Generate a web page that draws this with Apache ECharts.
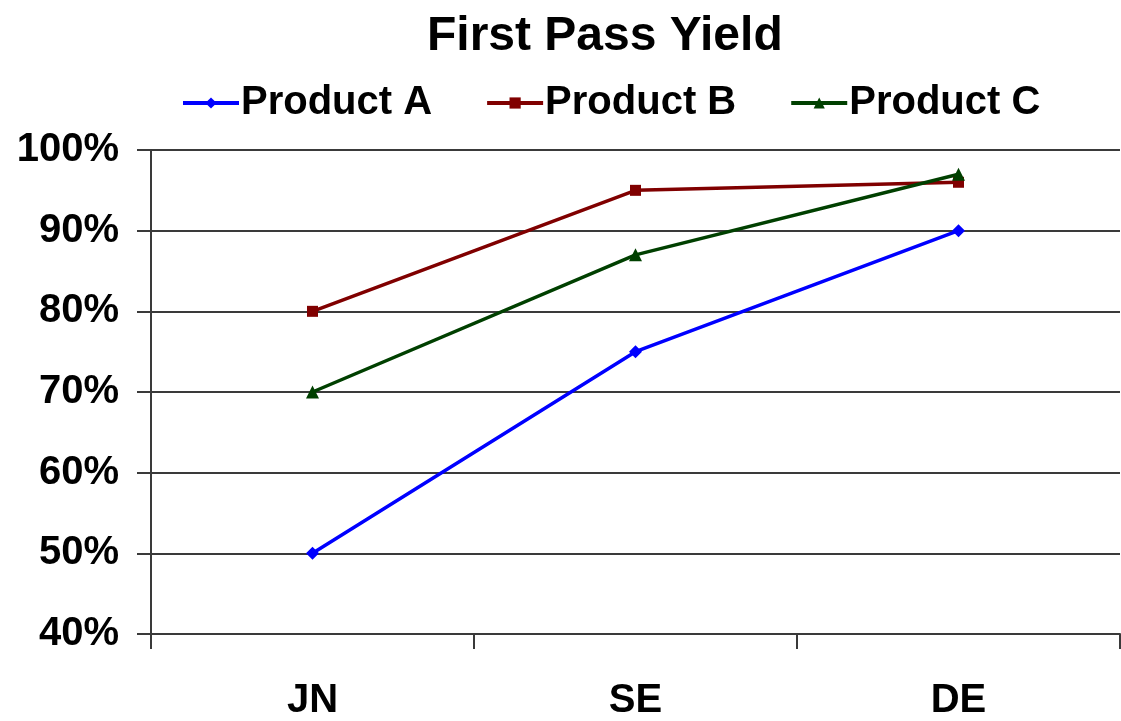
<!DOCTYPE html>
<html>
<head>
<meta charset="utf-8">
<script src="https://cdn.jsdelivr.net/npm/echarts@6/dist/echarts.min.js"></script>
<style>
  html, body { margin: 0; padding: 0; background: #fff; }
  #chart { width: 1121px; height: 721px; }
</style>
</head>
<body>
<div id="chart"></div>
<script>
// First pass yield per period, in percent
const periods = ['JN', 'SE', 'DE'];
const productA = [50, 75, 90];
const productB = [80, 95, 96];
const productC = [70, 87, 97];
const yTicks = { min: 40, max: 100, step: 10 };

const FONT = '"Liberation Sans", Arial, sans-serif';
const axisColor = '#3a3a3a';

const chart = echarts.init(document.getElementById('chart'), null, { renderer: 'canvas' });

function lineSeries(name, data, color, symbol, size) {
  return {
    name: name,
    type: 'line',
    data: data,
    symbol: symbol,
    symbolSize: size,
    showSymbol: true,
    lineStyle: { color: color, width: 3.5 },
    itemStyle: { color: color },
    emphasis: { disabled: true },
    animation: false
  };
}

chart.setOption({
  backgroundColor: '#ffffff',
  animation: false,
  title: {
    text: 'First Pass Yield',
    left: 422,
    top: 8,
    textStyle: { fontFamily: FONT, fontWeight: 'bold', fontSize: 48, color: '#000' }
  },
  legend: {
    top: 78,
    left: 176,
    itemWidth: 56,
    itemHeight: 14,
    itemGap: 53,
    lineStyle: { width: 4 },
    textStyle: { fontFamily: FONT, fontWeight: 'bold', fontSize: 40, color: '#000', padding: [0, 0, 0, -3] },
    data: ['Product A', 'Product B', 'Product C']
  },
  grid: { left: 151, right: 1, top: 150, bottom: 77, containLabel: false },
  xAxis: {
    type: 'category',
    data: periods,
    boundaryGap: true,
    axisLine: { show: true, lineStyle: { color: axisColor, width: 2 } },
    axisTick: { show: true, length: 15, alignWithLabel: false, lineStyle: { color: axisColor, width: 2 } },
    axisLabel: { margin: 47, fontFamily: FONT, fontWeight: 'bold', fontSize: 40, color: '#000' },
    splitLine: { show: false }
  },
  yAxis: {
    type: 'value',
    min: yTicks.min,
    max: yTicks.max,
    interval: yTicks.step,
    axisLine: { show: true, lineStyle: { color: axisColor, width: 2 } },
    axisTick: { show: true, length: 14, lineStyle: { color: axisColor, width: 2 } },
    axisLabel: {
      margin: 32,
      formatter: '{value}%',
      fontFamily: FONT, fontWeight: 'bold', fontSize: 40, color: '#000'
    },
    splitLine: { show: true, lineStyle: { color: axisColor, width: 2 } }
  },
  series: [
    lineSeries('Product A', productA, '#0000ff', 'diamond', 13),
    lineSeries('Product B', productB, '#800000', 'rect', 11),
    lineSeries('Product C', productC, '#004000', 'triangle', 13)
  ]
});
</script>
</body>
</html>
